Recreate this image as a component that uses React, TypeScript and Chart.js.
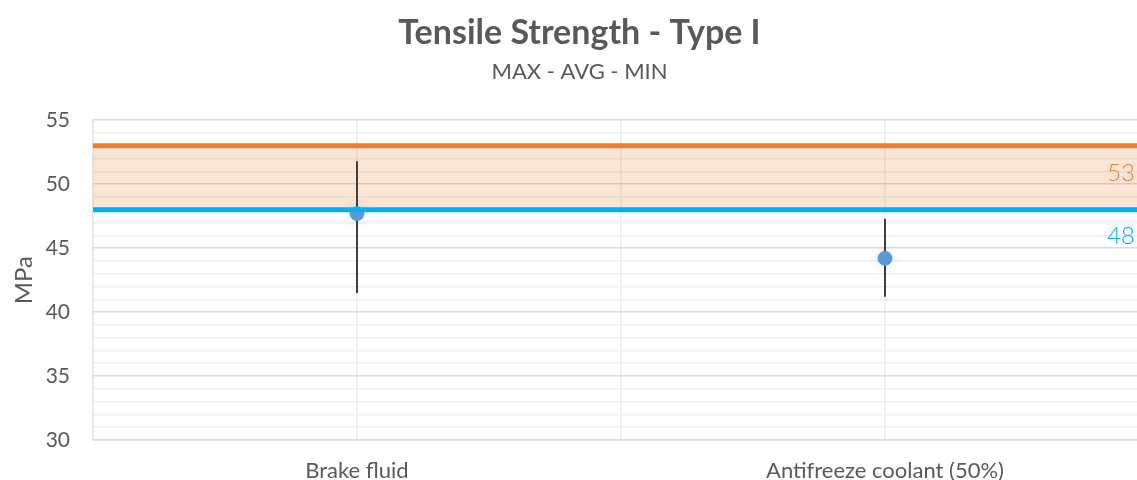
import React, { useEffect, useRef } from "react";
import { Chart, registerables } from "chart.js";

Chart.register(...registerables);

const categories = ["Brake fluid", "Antifreeze coolant (50%)"];
const maxValues = [51.8, 47.3];
const avgValues = [47.7, 44.2];
const minValues = [41.5, 41.2];
const upperLimit = 53;
const lowerLimit = 48;
const yMin = 30;
const yMax = 55;

const FONT = "Lato, 'Open Sans', sans-serif";
const TEXT = "#595959";
const ORANGE = "#ED7D31";
const BLUE = "#00B0F0";
const POINT_DATASET = 2;

const limitLabels = {
  id: "limitLabels",
  beforeDatasetDraw(chart: any, args: any) {
    if (args.index === POINT_DATASET) {
      const ctx = chart.ctx;
      ctx.save();
      ctx.shadowColor = "rgba(0,0,0,0.12)";
      ctx.shadowBlur = 14;
    }
  },
  afterDatasetDraw(chart: any, args: any) {
    if (args.index === POINT_DATASET) chart.ctx.restore();
  },
  afterDatasetsDraw(chart: any) {
    const { ctx, scales } = chart;
    const xs = scales.x;
    const ys = scales.y;
    const right = xs.getPixelForValue(xs.max) - 14;
    const items = [
      { v: upperLimit, c: ORANGE },
      { v: lowerLimit, c: BLUE },
    ];
    ctx.save();
    ctx.font = `300 24px ${FONT}`;
    ctx.textAlign = "right";
    ctx.textBaseline = "middle";
    items.forEach((it) => {
      ctx.fillStyle = it.c;
      ctx.fillText(String(it.v), right, ys.getPixelForValue(it.v) + 27);
    });
    ctx.restore();
  },
};

export default function App() {
  const ref = useRef<HTMLCanvasElement | null>(null);

  useEffect(() => {
    if (!ref.current) return;
    const lo = -0.5;
    const hi = categories.length - 0.5;
    const errorSets = categories.map((_, i) => ({
      type: "line" as const,
      data: [
        { x: i, y: minValues[i] },
        { x: i, y: maxValues[i] },
      ],
      borderColor: "#404040",
      borderWidth: 2,
      pointRadius: 0,
      fill: false,
    }));
    const chart = new Chart(ref.current, {
      type: "scatter",
      data: {
        datasets: [
          {
            type: "line",
            data: [
              { x: lo, y: upperLimit },
              { x: hi, y: upperLimit },
            ],
            borderColor: ORANGE,
            borderWidth: 5,
            pointRadius: 0,
            fill: { target: 1 },
            backgroundColor: "rgba(237,125,49,0.2)",
          },
          {
            type: "line",
            data: [
              { x: lo, y: lowerLimit },
              { x: hi, y: lowerLimit },
            ],
            borderColor: BLUE,
            borderWidth: 5,
            pointRadius: 0,
            fill: false,
          },
          {
            type: "scatter",
            data: categories.map((_, i) => ({ x: i, y: avgValues[i] })),
            backgroundColor: "#5B9BD5",
            borderColor: "#5B9BD5",
            pointRadius: 7,
            showLine: false,
          },
          ...errorSets,
        ] as any,
      },
      options: {
        animation: false,
        responsive: true,
        maintainAspectRatio: false,
        layout: { padding: { top: 0, right: 11, left: 10, bottom: 0 } },
        plugins: {
          legend: { display: false },
          tooltip: { enabled: false },
          filler: { drawTime: "beforeDatasetsDraw" },
          title: {
            display: true,
            text: "Tensile Strength - Type I",
            color: TEXT,
            font: { family: FONT, size: 34, weight: "bold" },
            padding: { top: 13, bottom: 0 },
          },
          subtitle: {
            display: true,
            text: "MAX - AVG - MIN",
            color: TEXT,
            font: { family: FONT, size: 22 },
            padding: { top: 5, bottom: 35 },
          },
        } as any,
        scales: {
          x: {
            type: "linear",
            min: lo,
            max: hi,
            afterFit: (s: any) => {
              s.height = 40;
              s.paddingLeft = 0;
              s.paddingRight = 0;
            },
            ticks: {
              stepSize: 0.5,
              autoSkip: false,
              maxRotation: 0,
              minRotation: 0,
              color: TEXT,
              font: { family: FONT, size: 22 },
              padding: 18,
              callback: (v: any) =>
                Number.isInteger(v) ? categories[v] ?? "" : "",
            },
            grid: { color: "#EDEDED", drawTicks: false, lineWidth: 1.5 },
            border: { color: "#D9D9D9", width: 1.5 },
          },
          y: {
            type: "linear",
            min: yMin,
            max: yMax,
            afterFit: (s: any) => {
              s.width = 83;
            },
            ticks: {
              stepSize: 1,
              autoSkip: false,
              color: TEXT,
              font: { family: FONT, size: 21 },
              padding: 23,
              callback: (v: any) => (v % 5 === 0 ? String(v) : ""),
            },
            grid: {
              drawTicks: false,
              lineWidth: 1.5,
              color: (c: any) =>
                c.tick && c.tick.value % 5 === 0 ? "#D9D9D9" : "#EFEFEF",
            },
            border: { color: "#E4E4E4", width: 1.5 },
            title: {
              display: true,
              text: "MPa",
              color: TEXT,
              font: { family: FONT, size: 24 },
              padding: { top: 0, bottom: 9 },
            },
          },
        },
      } as any,
      plugins: [limitLabels],
    });
    return () => chart.destroy();
  }, []);

  return (
    <div
      style={{
        position: "fixed",
        left: 0,
        top: 0,
        width: 1137,
        height: 480,
        overflow: "hidden",
        background: "#fff",
      }}
    >
      <div style={{ position: "relative", width: 1160, height: 480 }}>
        <canvas ref={ref} />
      </div>
    </div>
  );
}
